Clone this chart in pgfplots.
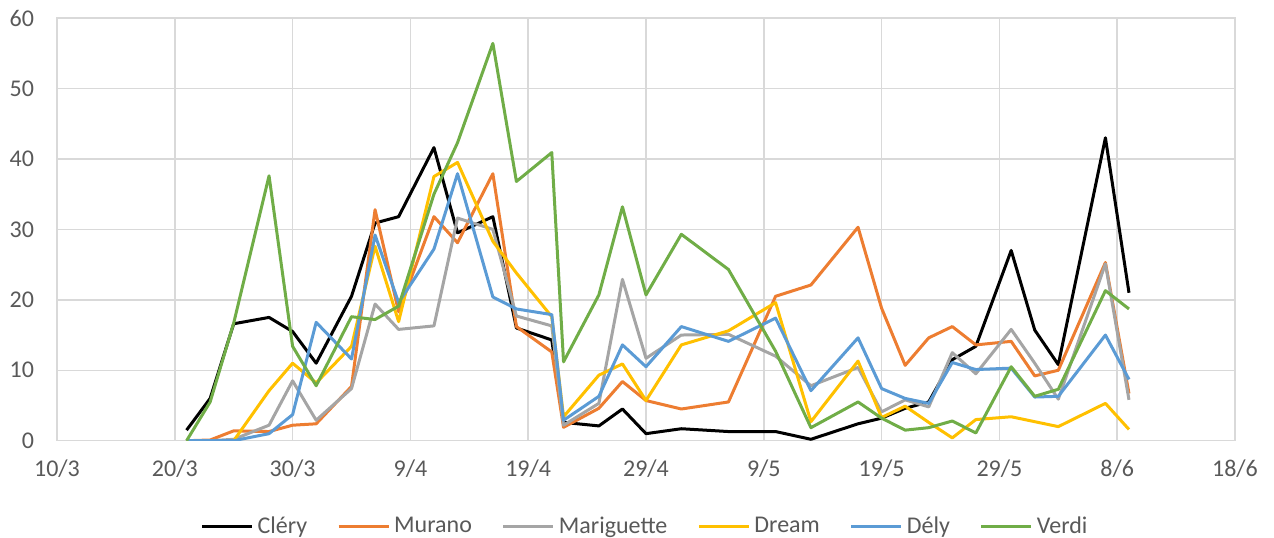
\documentclass[border=0pt]{standalone}
\usepackage{pgfplots}
\usepackage{pgfplotstable}
\pgfplotsset{compat=1.18}
\usepackage{fontspec}
\setmainfont{Carlito}
\definecolor{cClery}{HTML}{000000}
\definecolor{cMurano}{HTML}{ED7D31}
\definecolor{cMari}{HTML}{A5A5A5}
\definecolor{cDream}{HTML}{FFC000}
\definecolor{cDely}{HTML}{5B9BD5}
\definecolor{cVerdi}{HTML}{70AD47}
\definecolor{gridc}{HTML}{D9D9D9}
\definecolor{txt}{HTML}{595959}
\pgfplotstableread{
day clery murano mari dream dely verdi
11 1.5 0 0 0 0 0
13 6.0 0.1 0 0 0 5.5
15 16.6 1.4 0.2 0 0 16.7
18 17.5 1.3 2.2 7.1 1.0 37.6
20 15.5 2.2 8.5 11.0 3.7 13.4
22 11.0 2.4 2.9 8.2 16.8 7.8
25 20.5 7.7 7.4 13.4 11.6 17.6
27 30.9 32.8 19.4 27.6 29.2 17.2
29 31.8 18.3 15.8 16.9 19.6 19.1
32 41.6 31.8 16.3 37.5 27.2 35.0
34 29.5 28.1 31.6 39.5 37.9 42.3
37 31.8 37.9 30.0 28.3 20.4 56.4
39 16.0 16.2 17.7 23.8 18.7 36.8
42 14.3 12.6 16.3 17.6 17.9 40.9
43 2.6 1.9 2.2 3.4 2.9 11.2
46 2.1 4.6 5.3 9.3 6.3 20.7
48 4.5 8.4 22.9 10.9 13.6 33.2
50 1.0 5.7 11.7 5.7 10.5 20.7
53 1.7 4.5 15.0 13.6 16.2 29.3
57 1.3 5.5 15.1 15.6 14.1 24.3
61 1.3 20.5 12.0 19.6 17.4 12.7
64 0.2 22.1 7.8 2.7 7.1 1.85
68 2.4 30.3 10.4 11.3 14.6 5.5
70 3.2 18.8 4.1 3.3 7.4 3.2
72 4.6 10.7 5.8 4.9 6.0 1.5
74 5.5 14.6 4.8 2.6 5.3 1.85
76 11.5 16.2 12.5 0.4 11.1 2.8
78 13.4 13.6 9.5 3.0 10.1 1.1
81 27.0 14.1 15.8 3.4 10.3 10.5
83 15.7 9.2 11.0 2.7 6.2 6.3
85 10.8 10.0 5.9 2.0 6.3 7.3
89 43.0 25.3 25.1 5.3 15.0 21.3
91 21.0 6.7 5.8 1.6 8.7 18.7
}\data
\begin{document}
\begin{tikzpicture}
\begin{axis}[
  scale only axis,
  width=589pt, height=211.35pt,
  xmin=0, xmax=100, ymin=0, ymax=60,
  xtick={0,10,...,100},
  xticklabels={10/3,20/3,30/3,9/4,19/4,29/4,9/5,19/5,29/5,8/6,18/6},
  ytick={0,10,...,60},
  major tick length=0pt,
  grid=major,
  grid style={gridc, line width=0.75pt},
  axis line style={gridc, line width=0.75pt},
  font=\fontsize{12}{14}\selectfont,
  tick label style={text=txt},
  /pgf/number format/assume math mode=true,
  yticklabel style={xshift=-8pt},
  xticklabel style={yshift=-6pt},
  legend columns=6,
  legend style={draw=none, fill=none, at={(0.5,-0.203)}, anchor=center,
    font=\fontsize{12}{14}\selectfont, text=txt,
    /tikz/every even column/.append style={column sep=13pt}},
  legend image code/.code={\draw[#1, line width=1.5pt] (0pt,0pt) -- (25pt,0pt);},
  every axis plot/.append style={line width=1.5pt, line join=round, mark=none},
]
\addplot[cClery] table[x=day,y=clery]{\data};
\addlegendentry{Cléry}
\addplot[cMurano] table[x=day,y=murano]{\data};
\addlegendentry{Murano}
\addplot[cMari] table[x=day,y=mari]{\data};
\addlegendentry{Mariguette}
\addplot[cDream] table[x=day,y=dream]{\data};
\addlegendentry{Dream}
\addplot[cDely] table[x=day,y=dely]{\data};
\addlegendentry{Dély}
\addplot[cVerdi] table[x=day,y=verdi]{\data};
\addlegendentry{Verdi}
\end{axis}
\pgfresetboundingbox
\path[use as bounding box] (-28.5pt,-48.15pt) rectangle (608.5pt,220.35pt);
\end{tikzpicture}
\end{document}
